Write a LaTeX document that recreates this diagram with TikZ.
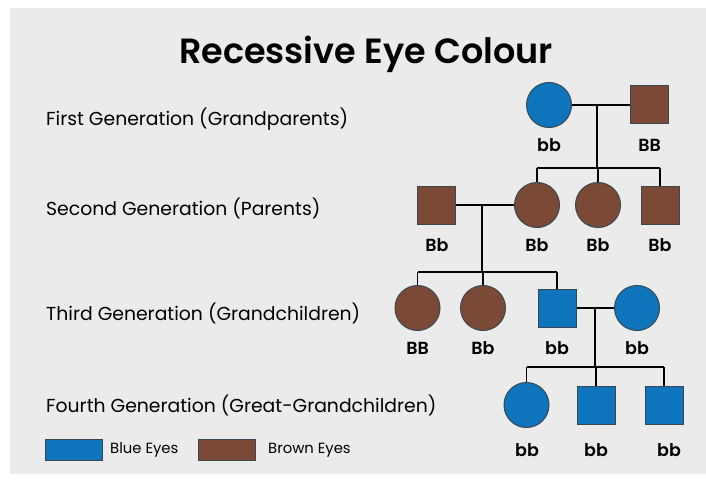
\documentclass[tikz,border=0pt]{standalone}
\usepackage{fontspec}
\setmainfont{Poppins}
\newfontfamily\titlefont{Poppins SemiBold}
\newfontfamily\genofont{Poppins SemiBold}
\usetikzlibrary{positioning}
\definecolor{bgray}{HTML}{EBEBEB}
\definecolor{eyeblue}{HTML}{0E74BC}
\definecolor{eyebrown}{HTML}{7B4A36}
\definecolor{rim}{HTML}{3A4650}
\tikzset{
  x=1pt, y=-1pt,
  female/.style={circle, draw=rim, line width=1pt, minimum size=45pt, inner sep=0pt},
  male/.style={rectangle, draw=rim, line width=1pt, minimum size=38pt, inner sep=0pt},
  blue/.style={fill=eyeblue},
  brown/.style={fill=eyebrown},
  geno/.style={font=\genofont\fontsize{17.5}{18}\selectfont, inner sep=0pt},
  genlabel/.style={font=\fontsize{18.8}{20}\selectfont, anchor=west, inner sep=0pt},
  key/.style={rectangle, draw=rim, line width=0.8pt, minimum width=57pt, minimum height=21pt, inner sep=0pt},
  keytext/.style={font=\fontsize{14.8}{16}\selectfont, anchor=west, inner sep=0pt},
  link/.style={line width=1.3pt, black},
}
\begin{document}
\begin{tikzpicture}
\useasboundingbox (0,0) rectangle (706,481);
\fill[white] (0,0) rectangle (706,481);
\fill[bgray] (10,8) rectangle (706,474);

\node[font=\titlefont\fontsize{35}{38}\selectfont, inner sep=0pt] (title) at (366,54) {Recessive Eye Colour};

% generation captions
\node[genlabel] (g1) at (46,119) {First Generation (Grandparents)};
\node[genlabel] (g2) at (46,208) {Second Generation (Parents)};
\node[genlabel] (g3) at (46,313) {Third Generation (Grandchildren)};
\node[genlabel] (g4) at (46,405) {Fourth Generation (Great-Grandchildren)};

% first generation
\node[female, blue] (gm) at (549,105) {};
\node[male, brown] (gf) at (649.5,105) {};
\node[geno] at (549,145) {bb};
\node[geno] at (649.5,145) {BB};

% second generation
\node[male, brown] (f2) at (436.5,205) {};
\node[female, brown] (m2) at (537,205) {};
\node[female, brown] (d2) at (598,205) {};
\node[male, brown] (s2) at (660,205) {};
\node[geno] at (437,245) {Bb};
\node[geno] at (537,245) {Bb};
\node[geno] at (598,245) {Bb};
\node[geno] at (660,245) {Bb};

% third generation
\node[female, brown] (c1) at (417.5,308) {};
\node[female, brown] (c2) at (483,308) {};
\node[male, blue] (c3) at (557,308) {};
\node[female, blue] (w3) at (637,308) {};
\node[geno] at (417.5,348) {BB};
\node[geno] at (483,348) {Bb};
\node[geno] at (557,348) {bb};
\node[geno] at (637,348) {bb};

% fourth generation
\node[female, blue] (k1) at (526.5,405) {};
\node[male, blue] (k2) at (596,405) {};
\node[male, blue] (k3) at (664,405) {};
\node[geno] at (527,450) {bb};
\node[geno] at (596,450) {bb};
\node[geno] at (669,450) {bb};

% couples and their offspring
\coordinate (u1) at (597,105);
\coordinate (u2) at (482,205);
\coordinate (u3) at (595,308);
\coordinate (t1) at (597,168);
\coordinate (t2) at (482,272);
\coordinate (t3) at (595,367);

\draw[link] (gm) -- (gf);
\draw[link] (u1) -- (t1);
\draw[link] (m2.north |- t1) -- (s2.north |- t1);
\draw[link] (m2.north |- t1) -- (m2.north);
\draw[link] (d2.north |- t1) -- (d2.north);
\draw[link] (s2.north |- t1) -- (s2.north);

\draw[link] (f2) -- (m2);
\draw[link] (u2) -- (t2);
\draw[link] (c1.north |- t2) -- (c3.north |- t2);
\draw[link] (c1.north |- t2) -- (c1.north);
\draw[link] (c2.north |- t2) -- (c2.north);
\draw[link] (c3.north |- t2) -- (c3.north);

\draw[link] (c3) -- (w3);
\draw[link] (u3) -- (t3);
\draw[link] (k1.north |- t3) -- (k3.north |- t3);
\draw[link] (k1.north |- t3) -- (k1.north);
\draw[link] (k2.north |- t3) -- (k2.north);
\draw[link] (k3.north |- t3) -- (k3.north);

% key
\node[key, blue] (kb) at (73.5,449.5) {};
\node[keytext] (kbt) at (110,450) {Blue Eyes};
\node[key, brown] (kr) at (226.5,449.5) {};
\node[keytext] (krt) at (268,450) {Brown Eyes};
\end{tikzpicture}
\end{document}
